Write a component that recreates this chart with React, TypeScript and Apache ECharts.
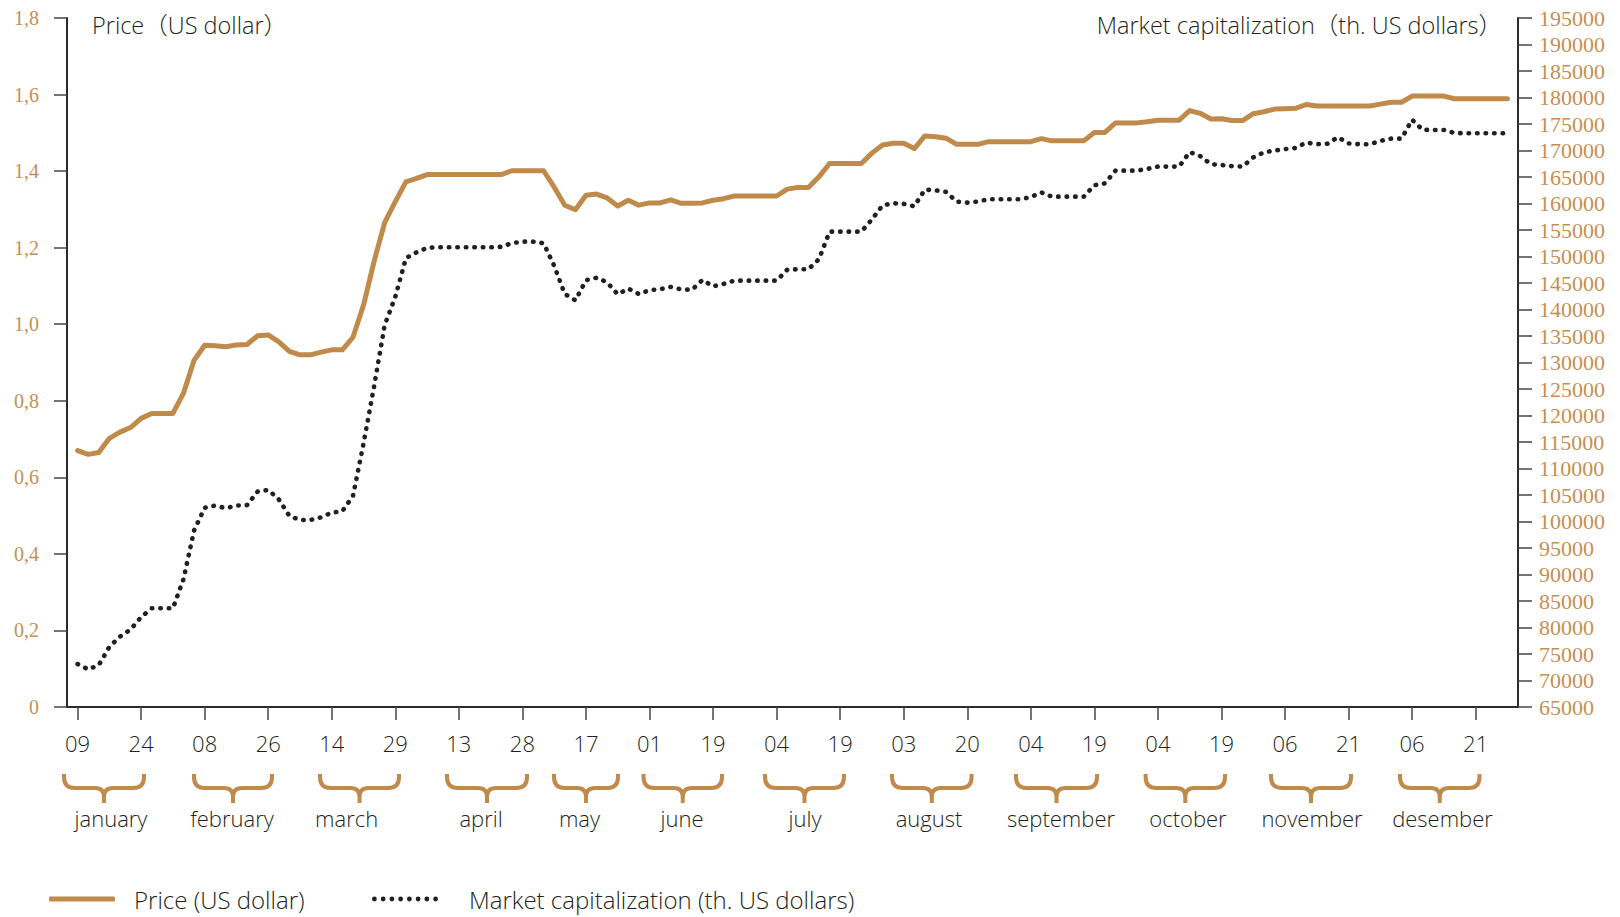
import React, { useEffect, useRef } from "react";
import * as echarts from "echarts";

// ---------- data ----------
const tickLabels = ["09", "24", "08", "26", "14", "29", "13", "28", "17", "01", "19", "04", "19", "03", "20", "04", "19", "04", "19", "06", "21", "06", "21"];
const monthNames = ["january", "february", "march", "april", "may", "june", "july", "august", "september", "october", "november", "desember"];

const priceValues = [
  0.67, 0.66, 0.665, 0.702, 0.718, 0.73, 0.754, 0.767, 0.767, 0.767,
  0.82, 0.906, 0.945, 0.944, 0.941, 0.946, 0.947, 0.97, 0.972, 0.954,
  0.929, 0.92, 0.92, 0.927, 0.933, 0.933, 0.966, 1.05, 1.165, 1.266,
  1.32, 1.372, 1.381, 1.391, 1.391, 1.391, 1.391, 1.391, 1.391, 1.391,
  1.391, 1.401, 1.401, 1.401, 1.401, 1.358, 1.311, 1.299, 1.337, 1.34,
  1.33, 1.309, 1.324, 1.311, 1.317, 1.317, 1.325, 1.316, 1.316, 1.317,
  1.324, 1.328, 1.335, 1.335, 1.335, 1.335, 1.335, 1.353, 1.357, 1.357,
  1.385, 1.42, 1.42, 1.42, 1.42, 1.447, 1.468, 1.473, 1.473, 1.459,
  1.492, 1.49, 1.486, 1.47, 1.47, 1.47, 1.477, 1.477, 1.477, 1.477,
  1.477, 1.485, 1.479, 1.479, 1.479, 1.479, 1.501, 1.501, 1.526, 1.526,
  1.526, 1.529, 1.533, 1.533, 1.533, 1.558, 1.551, 1.536, 1.537, 1.532,
  1.532, 1.55, 1.555, 1.562, 1.563, 1.564, 1.574, 1.57, 1.57, 1.57,
  1.57, 1.57, 1.57, 1.575, 1.58, 1.58, 1.596, 1.596, 1.596, 1.596,
  1.589, 1.589, 1.589, 1.589, 1.589, 1.589,
];

const capValues = [
  73100, 72100, 72900, 76350, 78270, 79620, 81970, 83620, 83620, 83620,
  89140, 98300, 102600, 103000, 102500, 103000, 103100, 105640, 105960, 104160,
  101050, 100290, 100290, 100790, 101660, 101970, 104800, 114730, 125560, 137100,
  142400, 149700, 150780, 151620, 151750, 151750, 151750, 151750, 151750, 151750,
  151820, 152520, 152800, 152800, 152500, 148240, 142930, 141730, 145520, 145990,
  145120, 142870, 143940, 142910, 143650, 143820, 144270, 143790, 143710, 145570,
  144370, 144840, 145440, 145440, 145440, 145440, 145440, 147500, 147590, 147590,
  149500, 154690, 154690, 154690, 154690, 157000, 159630, 160040, 159930, 159480,
  162620, 162490, 162190, 160350, 160160, 160370, 160800, 160800, 160800, 160800,
  161210, 162100, 161290, 161290, 161290, 161290, 163440, 163800, 166200, 166200,
  166200, 166530, 166960, 166960, 166960, 169700, 168940, 167410, 167270, 167050,
  166960, 168690, 169640, 169990, 170270, 170470, 171490, 171200, 171280, 172500,
  171330, 171180, 171180, 171800, 172240, 172240, 175800, 173900, 173880, 173880,
  173300, 173250, 173250, 173250, 173250, 173250,
];

const PRICE_NAME = "Price (US dollar)";
const CAP_NAME = "Market capitalization (th. US dollars)";

// ---------- layout (not data) ----------
const W = 1620;
const H = 917;
const GRID = { left: 67, right: 102, top: 18, bottom: 210 };
const STEPS_PER_TICK = 6;
const TOTAL_SLOTS = 138; // one padding slot before, one after the data
// month braces: [left, width] in pixels, month label centre x
const braceLayout = [
  [62, 84], [192, 82], [318, 83], [445, 84], [552, 68], [641.5, 82.5],
  [763, 83], [890, 83.6], [1014, 85], [1143.6, 83.4], [1269, 84], [1398, 83.5],
];
const monthLabelX = [111, 232, 346.6, 481, 579.5, 682, 805, 929, 1061, 1188, 1312, 1442.5];

const TAN = "#c08a4b";
const TAN_TEXT = "#c68f51";
const INK = "#231f20";
const AXIS = "#2b2b2b";
const SANS = "'Open Sans', 'Noto Sans', 'Noto Sans CJK SC', sans-serif";
const SERIF = "'Liberation Serif', 'DejaVu Serif', serif";

const categories: string[] = [];
for (let i = 0; i < TOTAL_SLOTS; i++) categories.push("c" + i);

const isTick = (idx: number) => idx >= 1 && (idx - 1) % STEPS_PER_TICK === 0 && (idx - 1) / STEPS_PER_TICK < tickLabels.length;

function braceD(w: number) {
  const m = w / 2;
  return `M0,0 L0,3 Q0,14 11,14 L${m - 9},14 Q${m},14 ${m},23 L${m},29 M${w},0 L${w},3 Q${w},14 ${w - 11},14 L${m + 9},14 Q${m},14 ${m},23`;
}

// dotted legend icon: a row of 8 small discs
function dotsIcon() {
  const r = 2.4;
  let d = "path://";
  for (let i = 0; i < 8; i++) {
    const cx = 2.5 + i * 8.7;
    d += `M${cx - r},2.5 a${r},${r} 0 1,0 ${2 * r},0 a${r},${r} 0 1,0 ${-2 * r},0 Z `;
  }
  return d.trim();
}

let registered = false;
function registerBraces() {
  if (registered) return;
  braceLayout.forEach(([, width], i) => {
    echarts.graphic.registerShape("brace" + i, echarts.graphic.extendPath(braceD(width - 4), {}));
  });
  registered = true;
}

export default function App() {
  const ref = useRef<HTMLDivElement>(null);

  useEffect(() => {
    if (!ref.current) return;
    registerBraces();
    const chart = echarts.init(ref.current, null, { renderer: "svg", width: W, height: H });

    const priceData = [null, ...priceValues, null];
    const capData = [null, ...capValues, null];

    const graphics: any[] = [];
    braceLayout.forEach(([left], i) => {
      graphics.push({
        type: "brace" + i,
        x: left + 2,
        y: 774,
        silent: true,
        style: { fill: "none", stroke: TAN, lineWidth: 4, lineCap: "butt", lineJoin: "round" },
      });
    });
    monthNames.forEach((name, i) => {
      graphics.push({
        type: "text",
        x: monthLabelX[i],
        y: 818,
        silent: true,
        style: { text: name, align: "center", verticalAlign: "middle", fontSize: 22, fontFamily: SANS, fontWeight: 300, fill: INK },
      });
    });
    graphics.push({
      type: "text",
      x: 92,
      y: 25,
      style: { text: "Price（US dollar）", align: "left", verticalAlign: "middle", fontSize: 23.5, fontFamily: SANS, fontWeight: 300, fill: INK },
    });
    graphics.push({
      type: "text",
      x: 1502,
      y: 25,
      style: { text: "Market capitalization（th. US dollars）", align: "right", verticalAlign: "middle", fontSize: 23.5, fontFamily: SANS, fontWeight: 300, fill: INK },
    });

    const legendCommon = {
      top: 887,
      orient: "horizontal",
      padding: 0,
      itemWidth: 66,
      itemHeight: 5,
      selectedMode: false,
    };

    chart.setOption({
      animation: false,
      backgroundColor: "#ffffff",
      grid: { left: GRID.left, right: GRID.right, top: GRID.top, bottom: GRID.bottom, containLabel: false },
      legend: [
        {
          ...legendCommon,
          left: 49,
          icon: "roundRect",
          data: [PRICE_NAME],
          textStyle: { fontSize: 24, fontFamily: SANS, fontWeight: 300, color: INK, padding: [0, 0, 0, 14] },
        },
        {
          ...legendCommon,
          left: 372,
          icon: dotsIcon(),
          data: [CAP_NAME],
          textStyle: { fontSize: 24, fontFamily: SANS, fontWeight: 300, color: INK, padding: [0, 0, 0, 26] },
        },
      ],
      xAxis: {
        type: "category",
        data: categories,
        boundaryGap: false,
        axisLine: { show: true, onZero: false, lineStyle: { color: AXIS, width: 2 } },
        axisTick: { show: true, interval: (idx: number) => isTick(idx), length: 13, lineStyle: { color: "#444", width: 1.5 } },
        axisLabel: {
          show: true,
          interval: (idx: number) => isTick(idx),
          formatter: (_v: string, idx: number) => (isTick(idx) ? tickLabels[(idx - 1) / STEPS_PER_TICK] : ""),
          margin: 25,
          fontSize: 22,
          fontFamily: SANS,
          fontWeight: 300,
          color: INK,
        },
        splitLine: { show: false },
      },
      yAxis: [
        {
          type: "value",
          position: "left",
          min: 0,
          max: 1.8,
          interval: 0.2,
          axisLine: { show: true, lineStyle: { color: AXIS, width: 2 } },
          axisTick: { show: true, length: 13, lineStyle: { color: "#444", width: 1.5 } },
          axisLabel: {
            margin: 28,
            fontSize: 20,
            fontFamily: SERIF,
            color: TAN_TEXT,
            formatter: (v: number) => (v === 0 ? "0" : v.toFixed(1).replace(".", ",")),
          },
          splitLine: { show: false },
        },
        {
          type: "value",
          position: "right",
          min: 65000,
          max: 195000,
          interval: 5000,
          axisLine: { show: true, lineStyle: { color: AXIS, width: 2 } },
          axisTick: { show: true, length: 14, lineStyle: { color: "#444", width: 1.5 } },
          axisLabel: {
            margin: 21,
            fontSize: 22,
            fontFamily: SERIF,
            color: TAN_TEXT,
            formatter: (v: number) => String(v),
          },
          splitLine: { show: false },
        },
      ],
      series: [
        {
          name: PRICE_NAME,
          type: "line",
          yAxisIndex: 0,
          data: priceData,
          symbol: "none",
          connectNulls: false,
          lineStyle: { color: TAN, width: 5, cap: "round", join: "round" },
          itemStyle: { color: TAN },
          z: 3,
        },
        {
          name: CAP_NAME,
          type: "line",
          yAxisIndex: 1,
          data: capData,
          symbol: "none",
          connectNulls: false,
          lineStyle: { color: INK, width: 4.6, type: [0.5, 8], cap: "round", join: "round" },
          itemStyle: { color: INK },
          z: 2,
        },
      ],
      graphic: graphics,
    });

    return () => chart.dispose();
  }, []);

  return <div ref={ref} style={{ position: "fixed", left: 0, top: 0, width: W, height: H, background: "#fff" }} />;
}
